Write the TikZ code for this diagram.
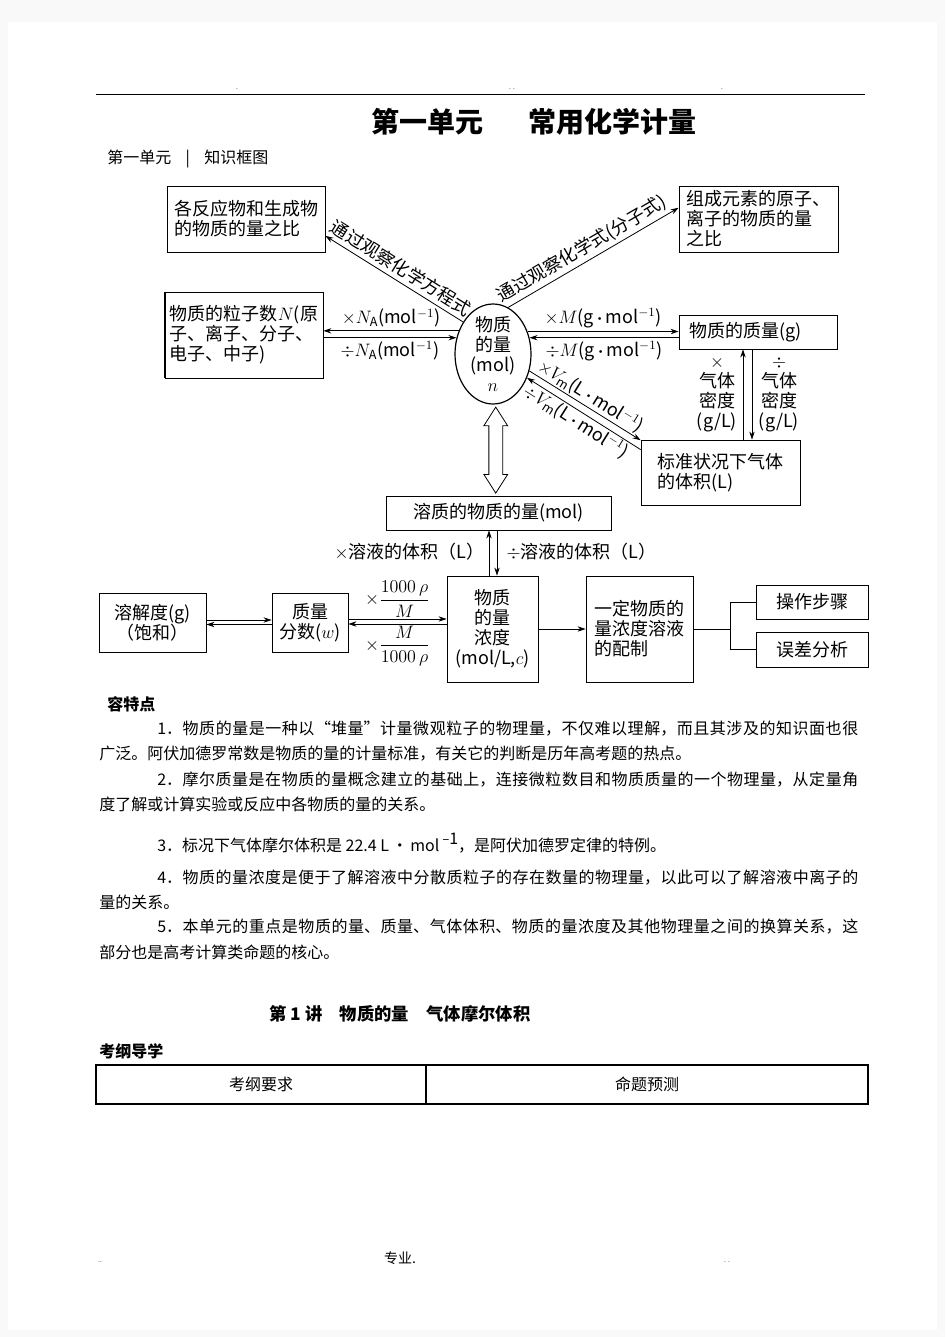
\RequirePackage{fix-cm}
\documentclass[tikz,border=0pt]{standalone}
\usepackage{amsmath}
\usepackage{fontspec}
\setmainfont{Noto Sans CJK SC}
\usetikzlibrary{shapes,arrows.meta}
\usetikzlibrary{positioning}
\usetikzlibrary{calc}
\newdimen\pxu \pxu=0.75pt
\newcommand{\dgfont}{\fontsize{13.5}{15}\selectfont}
\newcommand{\txtfont}{\fontsize{12}{15}\selectfont}
\newcommand{\jfont}{\fontsize{12}{15}\selectfont\XeTeXlinebreaklocale "zh"\XeTeXlinebreakskip=0pt plus 1fil\relax}
\newcommand{\fullline}[1]{\noindent\parfillskip=0pt\relax#1\par}
\tikzstyle{box} = [draw, rectangle, line width=0.6pt, inner sep=0pt, align=left, font=\dgfont]
\tikzstyle{line} = [draw, line width=0.6pt, -{Stealth[length=6pt,width=4pt]}]
\tikzstyle{jline} = [anchor=west, text width=701\pxu, inner sep=0pt, align=justify, font=\jfont]
\tikzstyle{tline} = [anchor=west, inner sep=0pt, font=\txtfont]
\tikzstyle{cell} = [draw, line width=1.5pt, minimum height=39\pxu, inner sep=0pt, font=\txtfont]

\begin{document}
\begin{tikzpicture}[x=0.75pt, y=-0.75pt,
	lbl/.style={font=\dgfont, inner sep=1pt},
	side/.style={font=\dgfont, align=center, inner sep=0pt}]
\useasboundingbox (0,0) rectangle (945,1337);
\fill[gray!5] (0,0) rectangle (945,1337);
\fill[white] (8,22) rectangle (937,1330);
%% page head
\draw[line width=0.75pt] (96,95) -- (865,95);
\node[font=\tiny] (d1) at (237,89) {.};
\node[font=\tiny] (d2) at (512,89) {. .};
\node[font=\tiny] (d3) at (722,89) {.};
\node[anchor=west, font=\bfseries\fontsize{21}{24}\selectfont] (title) at (367,122) {第一单元\hspace{1.6em}常用化学计量};
\node[tline] (unit) at (107,159) {第一单元\hspace{0.9em}|\hspace{0.9em}知识框图};

%% boxes
\node[box, minimum width=158\pxu, minimum height=66\pxu] (A) at (246,219) {各反应物和生成物\\的物质的量之比};
\node[box, minimum width=159\pxu, minimum height=66\pxu] (B) at (758.5,219) {组成元素的原子、\\离子的物质的量\\之比};
\node[box, minimum width=158\pxu, minimum height=86\pxu] (C) at (244,335) {物质的粒子数$N$(原\\子、离子、分子、\\电子、中子)};
\draw[line width=1.5pt] (C.north west) -- (C.south west);
\node[draw, ellipse, line width=0.9pt, minimum width=76\pxu, minimum height=100\pxu, inner sep=0pt] (n) at (493,354) {};
\node[side] (nt) at (n) {物质\\的量\\(mol)\\$n$};
\node[box, minimum width=158\pxu, minimum height=34\pxu, text width=138\pxu] (D) at (758,332) {物质的质量(g)};
\node[box, minimum width=159\pxu, minimum height=65\pxu] (E) at (720.5,472.5) {标准状况下气体\\的体积(L)};
\node[box, minimum width=225\pxu, minimum height=34\pxu, align=center] (F) at (498.5,513) {溶质的物质的量(mol)};
\node[box, minimum width=107\pxu, minimum height=59\pxu, align=center] (G) at (152.5,622.5) {溶解度(g)\\（饱和）};
\node[box, minimum width=76\pxu, minimum height=59\pxu, align=center] (H) at (310,622.5) {质量\\分数($w$)};
\node[box, minimum width=91\pxu, minimum height=106\pxu, align=center] (I) at (492.5,629) {物质\\的量\\浓度\\(mol/L,$c$)};
\node[box, minimum width=107\pxu, minimum height=106\pxu] (J) at (639.5,629) {一定物质的\\量浓度溶液\\的配制};
\node[box, minimum width=112\pxu, minimum height=34\pxu, align=center] (K) at (812,602) {操作步骤};
\node[box, minimum width=112\pxu, minimum height=35\pxu, align=center] (L) at (812,649.5) {误差分析};

%% Arrows
\path[line] (n.133) -- node[lbl, sloped, above=3\pxu, pos=0.5] {通过观察化学方程式} (A.-12);
\path[line] (n.72) -- node[lbl, sloped, above=2\pxu, pos=0.47] {通过观察化学式(分子式)} (B.172);
\path[line] (n.146) -- node[lbl, above=2\pxu] {$\times N_\mathrm{A}$(mol$^{-1}$)} (n.146 -| C.east);
\path[line] (n.156 -| C.east) -- node[lbl, below=2\pxu] {$\div N_\mathrm{A}$(mol$^{-1}$)} (n.156);
\path[line] (n.33) -- node[lbl, above=2\pxu] {$\times M$(g$\,\boldsymbol{\cdot}\,$mol$^{-1}$)} (n.33 -| D.west);
\path[line] (n.24 -| D.west) -- node[lbl, below=2\pxu] {$\div M$(g$\,\boldsymbol{\cdot}\,$mol$^{-1}$)} (n.24);
\path[line] (n.-25) -- node[lbl, sloped, above, pos=0.5] {$\times V_\mathrm{m}$(L$\,\boldsymbol{\cdot}\,$mol$^{-1}$)} (E.158);
\path[line] (E.164) -- node[lbl, sloped, below, pos=0.52] {$\div V_\mathrm{m}$(L$\,\boldsymbol{\cdot}\,$mol$^{-1}$)} (n.-35);
%% gas density
\path[line] (E.north -| 743,0) -- (D.south -| 743,0);
\path[line] (D.south -| 752,0) -- (E.north -| 752,0);
\node[side] (dmul) at (717,394) {$\times$\\气体\\密度\\(g/L)};
\node[side] (ddiv) at (779,394) {$\div$\\气体\\密度\\(g/L)};
%% solute
\node[double arrow, draw, line width=0.6pt, rotate=90, minimum height=86\pxu, inner xsep=0pt, inner ysep=6.5\pxu,
	double arrow head extend=5\pxu, double arrow tip angle=65] (dbl) at ($(n.south)!0.5!(F.north)$) {};
\path[line] (I.north -| 489,0) -- (F.south -| 489,0);
\path[line] (F.south -| 497,0) -- (I.north -| 497,0);
\node[lbl, anchor=east] (vmul) at (486,552) {$\times$溶液的体积（L）};
\node[lbl, anchor=west] (vdiv) at (505,552) {$\div$溶液的体积（L）};
%% solution row
\path[line] ([yshift=2.5\pxu]G.east) -- ([yshift=2.5\pxu]H.west);
\path[line] ([yshift=-2\pxu]H.west) -- ([yshift=-2\pxu]G.east);
\path[line] ([yshift=3.5\pxu]H.east) -- node[lbl, above] {$\times\dfrac{1000\,\rho}{M}$} ([yshift=3.5\pxu]H.east -| I.west);
\path[line] ([yshift=-1.5\pxu]H.east -| I.west) -- node[lbl, below] {$\times\dfrac{M}{1000\,\rho}$} ([yshift=-1.5\pxu]H.east);
\path[line] (I) -- (J);
\coordinate (br) at (730,629);
\draw[line width=0.6pt] (J.east) -- (br);
\draw[line width=0.6pt] (K.west) -| (br) |- (L.west);

%% text
\node[tline, font=\bfseries\txtfont] (feat) at (107,704) {容特点};
\node[jline] (p1a) at (157,729) {\fullline{1．物质的量是一种以“堆量”计量微观粒子的物理量，不仅难以理解，而且其涉及的知识面也很}};
\node[tline] (p1b) at (99,754) {广泛。阿伏加德罗常数是物质的量的计量标准，有关它的判断是历年高考题的热点。};
\node[jline] (p2a) at (157,779) {\fullline{2．摩尔质量是在物质的量概念建立的基础上，连接微粒数目和物质质量的一个物理量，从定量角}};
\node[tline] (p2b) at (99,804) {度了解或计算实验或反应中各物质的量的关系。};
\node[tline] (p3) at (157,843) {3．标况下气体摩尔体积是 22.4 L\,·\,mol\hspace{0.2em}\raisebox{0.45em}{{\small −}1}，是阿伏加德罗定律的特例。};
\node[jline] (p4a) at (157,878) {\fullline{4．物质的量浓度是便于了解溶液中分散质粒子的存在数量的物理量，以此可以了解溶液中离子的}};
\node[tline] (p4b) at (99,902) {量的关系。};
\node[jline] (p5a) at (157,927) {\fullline{5．本单元的重点是物质的量、质量、气体体积、物质的量浓度及其他物理量之间的换算关系，这}};
\node[tline] (p5b) at (99,952) {部分也是高考计算类命题的核心。};
\node[tline, font=\bfseries\fontsize{13}{15}\selectfont] (lect) at (269,1014) {第 1 讲\hspace{1em}物质的量\hspace{1em}气体摩尔体积};
\node[tline, font=\bfseries\txtfont] (guide) at (99,1051) {考纲导学};
\node[cell, minimum width=330\pxu] (req) at (261,1084.5) {考纲要求};
\node[cell, minimum width=442\pxu] (pred) at (647,1084.5) {命题预测};
%% page foot
\node[font=\fontsize{10.5}{12}\selectfont] (foot) at (400,1258) {专业.};
\node[font=\tiny] (d4) at (100,1262) {..};
\node[font=\tiny] (d5) at (727,1262) {. .};
\end{tikzpicture}
\end{document}
